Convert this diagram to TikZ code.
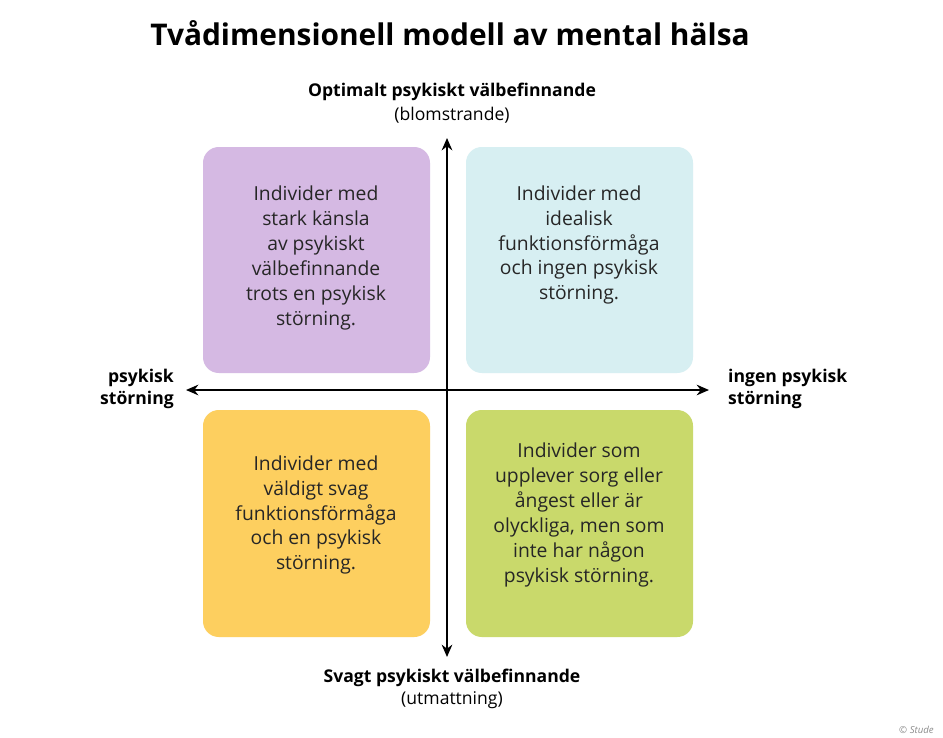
\documentclass[tikz,border=0pt]{standalone}
\usepackage{fontspec}
\setmainfont{Open Sans}
\usetikzlibrary{arrows.meta}
\definecolor{cpur}{HTML}{D5B9E3}
\definecolor{ccya}{HTML}{D7EFF2}
\definecolor{cyel}{HTML}{FDCF5F}
\definecolor{cgre}{HTML}{C9D96B}
\begin{document}
\begin{tikzpicture}[x=0.02cm,y=-0.02cm,
 box/.style={rounded corners=9pt,draw=none},
 btxt/.style={align=center,font=\fontsize{11}{14.2}\selectfont,text=black!85},
 lab/.style={font=\bfseries\fontsize{10}{12.5}\selectfont},
 ax/.style={line width=1.6pt,{Stealth[length=7pt,width=6pt]}-{Stealth[length=7pt,width=6pt]}}]
\useasboundingbox[fill=white] (0,0) rectangle (943,737);
\node[font=\bfseries\fontsize{17}{20}\selectfont] (title) at (450,33) {Tvådimensionell modell av mental hälsa};
\fill[cpur,box] (203,147) rectangle (430,373);
\fill[ccya,box] (466,147) rectangle (693,373);
\fill[cyel,box] (203,410) rectangle (430,637);
\fill[cgre,box] (466,410) rectangle (693,637);
\node[btxt] (a) at (316,258) {Individer med\\stark känsla\\av psykiskt\\välbefinnande\\trots en psykisk\\störning.};
\node[btxt] (b) at (579,245) {Individer med\\idealisk\\funktionsförmåga\\och ingen psykisk\\störning.};
\node[btxt] (c) at (316,515) {Individer med\\väldigt svag\\funktionsförmåga\\och en psykisk\\störning.};
\node[btxt] (d) at (579,515) {Individer som\\upplever sorg eller\\ångest eller är\\olyckliga, men som\\inte har någon\\psykisk störning.};
\coordinate (t) at (447,138);
\coordinate (bo) at (447,657);
\coordinate (l) at (186,390);
\coordinate (r) at (709,390);
\draw[ax] (t) -- (bo);
\draw[ax] (l) -- (r);
\node[lab] (top) at (452,92) {Optimalt psykiskt välbefinnande};
\node[font=\fontsize{10}{12.5}\selectfont] (top2) at (452,115) {(blomstrande)};
\node[lab] (bot) at (452,678) {Svagt psykiskt välbefinnande};
\node[font=\fontsize{10}{12.5}\selectfont] (bot2) at (452,700) {(utmattning)};
\node[lab,align=right,anchor=east] (le) at (180,389) {psykisk\\störning};
\node[lab,align=left,anchor=west] (ri) at (722,389) {ingen psykisk\\störning};
\node[font=\itshape\fontsize{5.5}{6}\selectfont,text=black!45,anchor=west] (wm) at (893,730) {© Stude};
\end{tikzpicture}
\end{document}
